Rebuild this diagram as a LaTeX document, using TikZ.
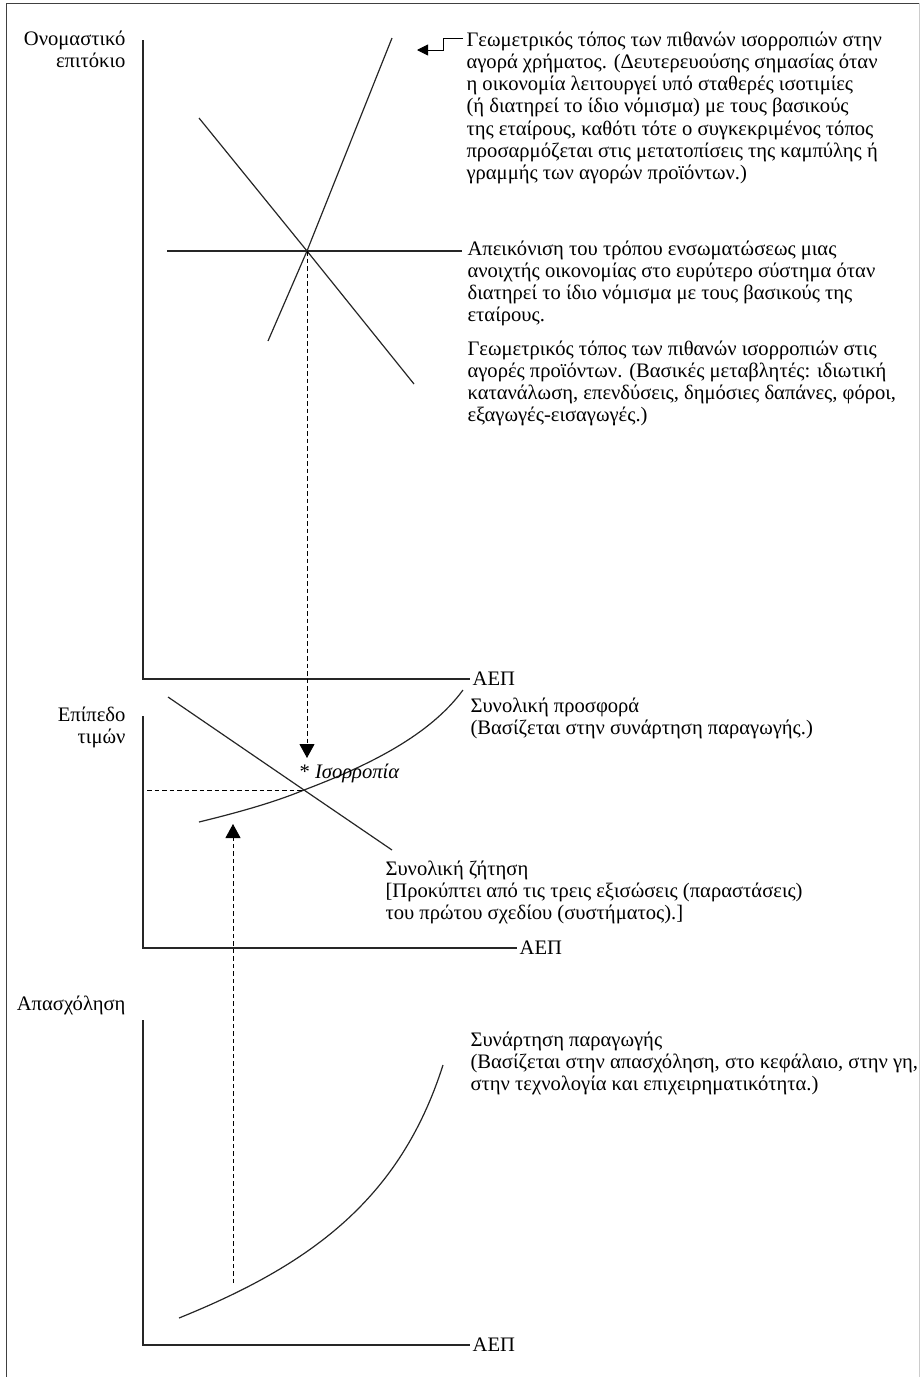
\documentclass[tikz,border=0pt]{standalone}
\usepackage{fontspec}
\setmainfont{Liberation Serif}
\usepackage{tikz}
\usetikzlibrary{arrows.meta, positioning}

\begin{document}
\begin{tikzpicture}[x=1pt, y=-1pt, line width=1.1pt]
  \tikzset{
    axis/.style={line width=1.4pt, draw=black!85},
    curve/.style={line width=1.2pt, draw=black!85},
    guide/.style={line width=0.9pt, dash pattern=on 4.5pt off 3pt},
    note/.style={anchor=north west, inner sep=0pt, align=left, font=\fontsize{20.6}{22.3}\selectfont},
    ylab/.style={anchor=north east, inner sep=0pt, align=right, font=\fontsize{20.6}{22.3}\selectfont},
    xlab/.style={anchor=west, inner sep=2pt, font=\fontsize{20.6}{22.3}\selectfont}
  }
  \useasboundingbox (0,0) rectangle (921,1377);
  % frame
  \draw[line width=1pt, black!75] (6,1377) -- (6,3) -- (919,3);
  \draw[line width=1pt, black!20] (919,3) -- (919,1377);

  % panel 1: money and product markets
  \node[ylab] (irate) at (126,30) {Ονομαστικό\\επιτόκιο};
  \coordinate (o1) at (143,679);
  \draw[axis] (143,40) -- (o1) -- (470,679) node[xlab] (gdp1) {ΑΕΠ};
  \coordinate (e1) at (307,251);
  \draw[curve] (268,341) -- (e1) -- (392,38);
  \draw[curve] (199,118) -- (e1) -- (414,384);
  \draw[curve] (167,251) -- (e1) -- (462,251);
  \node[note] (fix) at (467,240) {Απεικόνιση του τρόπου ενσωματώσεως μιας\\ανοιχτής οικονομίας στο ευρύτερο σύστημα όταν\\διατηρεί το ίδιο νόμισμα με τους βασικούς της\\εταίρους.};
  \node[note] (money) at (466,31) {Γεωμετρικός τόπος των πιθανών ισορροπιών στην\\αγορά χρήματος. (Δευτερευούσης σημασίας όταν\\η οικονομία λειτουργεί υπό σταθερές ισοτιμίες\\(ή διατηρεί το ίδιο νόμισμα) με τους βασικούς\\της εταίρους, καθότι τότε ο συγκεκριμένος τόπος\\προσαρμόζεται στις μετατοπίσεις της καμπύλης ή\\γραμμής των αγορών προϊόντων.)};
  \node[note] (goods) at (467,340) {Γεωμετρικός τόπος των πιθανών ισορροπιών στις\\αγορές προϊόντων. (Βασικές μεταβλητές: ιδιωτική\\κατανάλωση, επενδύσεις, δημόσιες δαπάνες, φόροι,\\εξαγωγές-εισαγωγές.)};
  \draw[line width=0.9pt, -{Triangle[width=11pt,length=11pt]}] (money.north west) ++(-3,7) -- ++(-20,0) -- ++(0,12) -- ++(-26,0);

  % panel 2: price level
  \node[ylab] (plevel) at (126,706) {Επίπεδο\\τιμών};
  \coordinate (o2) at (143,948);
  \draw[axis] (143,716) -- (o2) -- (517,948) node[xlab] (gdp2) {ΑΕΠ};
  \coordinate (e2) at (304,790);
  \draw[curve] (168,697) -- (e2) -- (392,850);
  \draw[curve] (199,822) .. controls (240,812) and (275,802) .. (e2)
    .. controls (370,765) and (430,735) .. (463,690);
  \node[note] (supply) at (470,697) {Συνολική προσφορά\\(Βασίζεται στην συνάρτηση παραγωγής.)};
  \node[note] (demand) at (385,860) {Συνολική ζήτηση\\{[}Προκύπτει από τις τρεις εξισώσεις (παραστάσεις)\\του πρώτου σχεδίου (συστήματος).{]}};
  \node[inner sep=0pt, anchor=south west, font=\fontsize{20.6}{22.3}\selectfont] (eq) at (299,783) {* \textit{Ισορροπία}};
  \draw[guide] (147,790) -- (e2);
  \draw[guide, -{Triangle[width=15pt,length=14pt]}] (e1) -- (307,758);

  % panel 3: employment
  \node[ylab] (emp) at (126,995) {Απασχόληση};
  \coordinate (o3) at (143,1345);
  \draw[axis] (143,1020) -- (o3) -- (470,1345) node[xlab] (gdp3) {ΑΕΠ};
  \draw[curve] (179,1318) .. controls (310,1265) and (400,1200) .. (443,1065);
  \node[note] (prod) at (470,1031) {Συνάρτηση παραγωγής\\(Βασίζεται στην απασχόληση, στο κεφάλαιο, στην γη,\\στην τεχνολογία και επιχειρηματικότητα.)};
  \coordinate (q3) at (233,1283);
  \draw[guide, -{Triangle[width=15pt,length=14pt]}] (q3) -- (233,824);
\end{tikzpicture}
\end{document}
